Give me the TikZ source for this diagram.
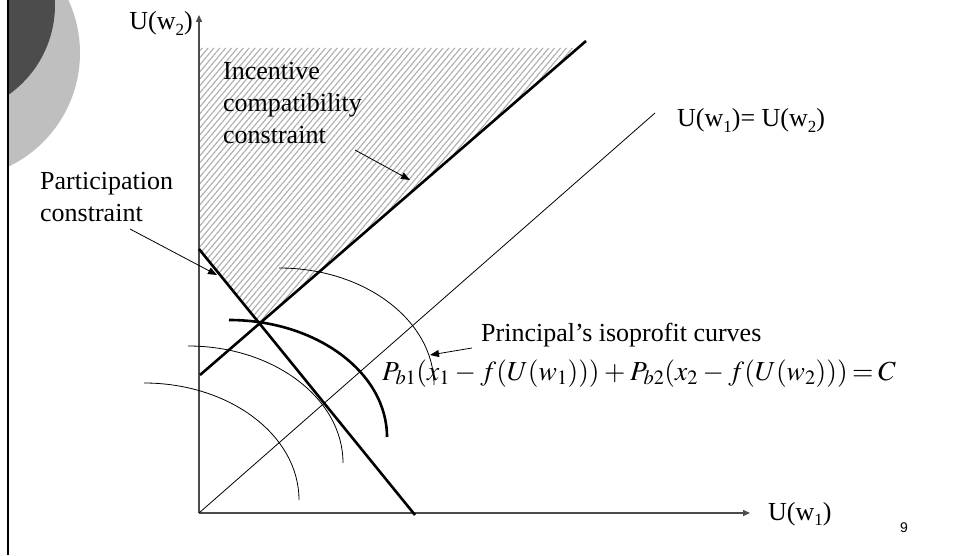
\documentclass[tikz,border=0pt]{standalone}
\usepackage{mathptmx}
\usepackage{fontspec}
\setmainfont{Liberation Serif}
\setsansfont{Liberation Sans}
\usetikzlibrary{arrows.meta,patterns.meta}
\newcommand{\lo}[1]{\raisebox{-0.22em}{\fontsize{17}{17}\selectfont #1}}

\begin{document}
\begin{tikzpicture}[x=1pt,y=1pt,
    txt/.style={font=\fontsize{26}{32}\selectfont, inner sep=0pt, align=left},
    constr/.style={line width=2.6pt},
    hair/.style={line width=0.8pt},
    pointer/.style={hair, -{Triangle[length=9pt,width=7pt]}},
    axis/.style={line width=1.5pt, draw=black!70, -{Triangle[length=7pt,width=6pt]}}]
    \useasboundingbox (0,0) rectangle (959,555);
    % corner of the slide
    \begin{scope}
        \clip (8,0) rectangle (300,555);
        \fill[black!25] (-46,502) circle (126);
        \fill[black!70] (-55,550) circle (110);
    \end{scope}
    \draw[line width=2pt] (8,0) -- (8,555);

    \coordinate (O) at (199,42);
    \coordinate (ytop) at (199,540);
    \coordinate (xend) at (750,42);
    \coordinate (icc-a) at (200,180);
    \coordinate (icc-b) at (586,514);
    \coordinate (pc-a) at (199,306);
    \coordinate (pc-b) at (415,40);
    \coordinate (diag) at (655,442);
    \coordinate (E) at (intersection of icc-a--icc-b and pc-a--pc-b);

    % feasible region
    \fill[pattern={Lines[angle=50,distance=4.5pt,line width=1.1pt]}, pattern color=black!32]
        (200,507) -- (578,507) -- (E) -- (pc-a) -- cycle;

    \draw[axis] (O) -- (ytop);
    \draw[axis] (O) -- (xend);
    \draw[hair] (O) -- (diag);
    \draw[constr] (icc-a) -- (icc-b);
    \draw[constr] (pc-a) -- (pc-b);

    % isoprofit curves
    \foreach \x/\y in {279/287, 188/209, 144/172}
        \draw[hair] (\x,\y) arc[start angle=90, end angle=0, x radius=155, y radius=117];
    \draw[constr] (229,235) arc[start angle=90, end angle=0, x radius=158, y radius=117];

    \node[txt, anchor=base east] (ylab) at (193,525) {U(w\lo{2})};
    \node[txt, anchor=base west] (xlab) at (768,35) {U(w\lo{1})};
    \node[txt, anchor=base west] (dlab) at (677,428) {U(w\lo{1})= U(w\lo{2})};
    \node[txt, anchor=north west] (icl) at (223,493) {Incentive\\compatibility\\constraint};
    \node[txt, anchor=north west] (pcl) at (40,383) {Participation\\constraint};
    \node[txt, anchor=base west] (ipl) at (481,213) {Principal’s isoprofit curves};
    \node[anchor=base west, inner sep=0pt, font=\fontsize{27.5}{33}\selectfont] (eq) at (382,175)
        {$\medmuskip=3mu\thickmuskip=3mu P_{b1}(x_1-f(U(w_1)))+P_{b2}(x_2-f(U(w_2)))=C$};
    \node[font=\sffamily\fontsize{14}{16}\selectfont] (pg) at (904,27) {9};

    \coordinate (icc-tip) at (410,375);
    \coordinate (pc-tip) at (217,280);
    \coordinate (ip-tip) at (430,200);
    \draw[pointer] (355,405) -- (icc-tip);
    \draw[pointer] (130,326) -- (pc-tip);
    \draw[pointer] (472,207) -- (ip-tip);
\end{tikzpicture}
\end{document}
